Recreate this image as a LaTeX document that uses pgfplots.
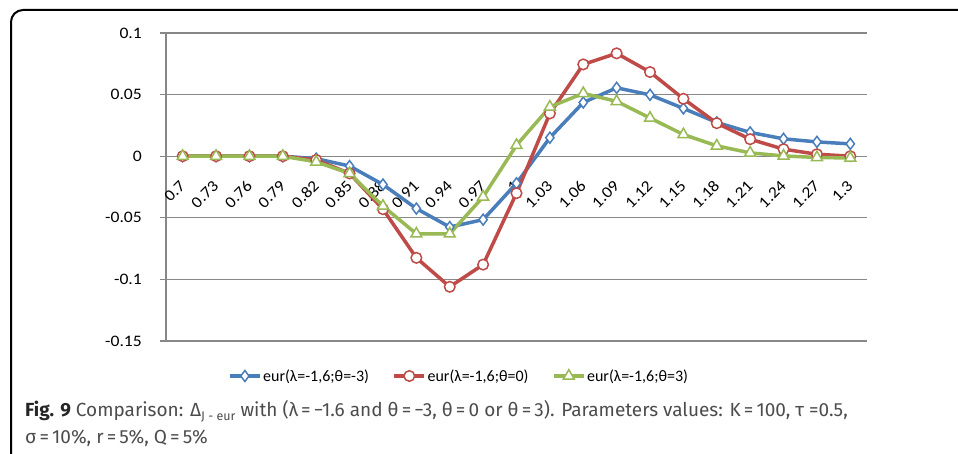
\documentclass[border=0pt]{standalone}
\usepackage{fontspec}
\setmainfont{Carlito}
\newfontfamily\tickfont[FakeStretch=1.1]{Carlito}
\newfontfamily\capfont{Fira Sans}
\usepackage{pgfplots}
\pgfplotsset{compat=1.18}
\definecolor{sblue}{HTML}{4A7EBB}
\definecolor{sred}{HTML}{BE4B48}
\definecolor{sgreen}{HTML}{98B954}
\definecolor{gridgray}{HTML}{878787}

\begin{document}
\begin{tikzpicture}[x=1pt,y=1pt]
\useasboundingbox (0,0) rectangle (958,453);
\begin{axis}[
  at={(166pt,112pt)}, anchor=south west,
  width=701pt, height=308pt, scale only axis,
  xmin=-0.5, xmax=20.5, ymin=-0.15, ymax=0.1,
  axis x line*=middle, axis y line*=left,
  axis line style={gridgray, line width=1.2pt},
  xtick={0,...,20},
  xticklabels={0.7,0.73,0.76,0.79,0.82,0.85,0.88,0.91,0.94,0.97,1,1.03,1.06,1.09,1.12,1.15,1.18,1.21,1.24,1.27,1.3},
  xtick style={draw=none},
  minor xtick={-0.5,0.5,...,20.5},
  minor tick style={gridgray, line width=1.2pt},
  minor tick length=5pt,
  major tick length=6pt,
  tick align=outside,
  ytick={-0.15,-0.1,-0.05,0,0.05,0.1},
  yticklabels={-0.15,-0.1,-0.05,0,0.05,0.1},
  ytick style={gridgray, line width=1.2pt},
  ymajorgrids=true,
  major grid style={gridgray, line width=1.2pt},
  tick label style={font=\tickfont\fontsize{16}{18}\selectfont, black},
  xticklabel style={rotate=45, anchor=east, inner sep=0pt},
  xticklabel shift=21pt,
  yticklabel style={anchor=east, inner sep=0pt},
  yticklabel shift=18pt,
  clip=false,
  every axis plot/.append style={line width=3.5pt, mark size=5pt,
     mark options={fill=white, line width=1.5pt, solid}},
  legend columns=3,
  legend style={at={(0.0884,-0.1136)}, anchor=west, draw=none, fill=none,
     inner sep=0pt, font=\fontsize{16}{18}\selectfont,
     nodes={inner sep=1.5pt},
     /tikz/every even column/.append style={column sep=22pt}},
  legend image code/.code={\draw[mark repeat=2,mark phase=2] plot coordinates {(0pt,0pt)(15pt,0pt)(30pt,0pt)};},
]
\addplot[sblue, mark=diamond*, mark size=5.5pt] coordinates {
(0,0) (1,0) (2,0) (3,0) (4,-0.002) (5,-0.008) (6,-0.023) (7,-0.0425) (8,-0.0575) (9,-0.0515)
(10,-0.022) (11,0.015) (12,0.0436) (13,0.0555) (14,0.0498) (15,0.0388) (16,0.0274) (17,0.0193)
(18,0.0141) (19,0.0116) (20,0.010)};
\addlegendentry{eur(λ=-1,6;θ=-3)}
\addplot[sred, mark=*, mark size=5.3pt] coordinates {
(0,0) (1,0) (2,0) (3,0) (4,-0.003) (5,-0.014) (6,-0.043) (7,-0.0825) (8,-0.106) (9,-0.088)
(10,-0.030) (11,0.0347) (12,0.0745) (13,0.0835) (14,0.0683) (15,0.0466) (16,0.0268) (17,0.0138)
(18,0.0057) (19,0.0016) (20,0.000)};
\addlegendentry{eur(λ=-1,6;θ=0)}
\addplot[sgreen, mark=triangle*, mark size=6.3pt] coordinates {
(0,0) (1,0) (2,0) (3,0) (4,-0.0046) (5,-0.014) (6,-0.0405) (7,-0.063) (8,-0.063) (9,-0.033)
(10,0.0089) (11,0.040) (12,0.051) (13,0.0445) (14,0.031) (15,0.0176) (16,0.0084) (17,0.0027)
(18,0.0002) (19,-0.001) (20,-0.0015)};
\addlegendentry{eur(λ=-1,6;θ=3)}
\end{axis}
\draw[line width=2pt, rounded corners=12pt] (11,-10) -- (11,443) -- (975,443);
\node[anchor=base west, inner sep=0pt, font=\capfont\fontsize{19}{22}\selectfont, text=black!70]
  at (25,37) {{\bfseries\color{black!85}Fig. 9} Comparison: Δ\raisebox{-0.4ex}{\fontsize{12.5}{13}\selectfont J - eur} with (λ\,=\,−1.6 and θ\,=\,−3, θ\,=\,0 or θ\,=\,3). Parameters values: K\,=\,100, τ =0.5,};
\node[anchor=base west, inner sep=0pt, font=\capfont\fontsize{19}{22}\selectfont, text=black!70]
  at (25,10) {σ\,=\,10\%, r\,=\,5\%, Q\,=\,5\%};
\end{tikzpicture}
\end{document}
